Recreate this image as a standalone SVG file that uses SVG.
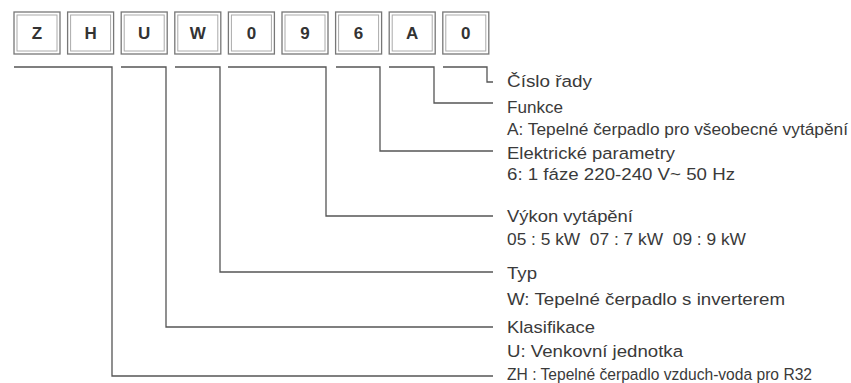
<svg xmlns="http://www.w3.org/2000/svg" width="851" height="383" viewBox="0 0 851 383">
<style>
.box-o{fill:#fff;stroke:#777;stroke-width:1.3}
.box-i{fill:none;stroke:#aaa;stroke-width:1}
.ch{font-family:"Liberation Sans",Arial,sans-serif;font-weight:bold;font-size:17px;fill:#333;text-anchor:middle}
.lbl{font-family:"Liberation Sans",Arial,sans-serif;font-size:16.8px;fill:#3a3a3a;white-space:pre}
.ln{fill:none;stroke:#555;stroke-width:1.3}
</style>
<rect width="851" height="383" fill="#fff"/>
<g id="box-Z"><rect class="box-o" x="14" y="12" width="46" height="42"/><rect class="box-i" x="17" y="15" width="40" height="36"/><text class="ch" x="37" y="39">Z</text></g>
<g id="box-H"><rect class="box-o" x="67.6" y="12" width="46" height="42"/><rect class="box-i" x="70.6" y="15" width="40" height="36"/><text class="ch" x="90.6" y="39">H</text></g>
<g id="box-U"><rect class="box-o" x="121.2" y="12" width="46" height="42"/><rect class="box-i" x="124.2" y="15" width="40" height="36"/><text class="ch" x="144.2" y="39">U</text></g>
<g id="box-W"><rect class="box-o" x="174.8" y="12" width="46" height="42"/><rect class="box-i" x="177.8" y="15" width="40" height="36"/><text class="ch" x="197.8" y="39">W</text></g>
<g id="box-0a"><rect class="box-o" x="228.4" y="12" width="46" height="42"/><rect class="box-i" x="231.4" y="15" width="40" height="36"/><text class="ch" x="251.4" y="39">0</text></g>
<g id="box-9"><rect class="box-o" x="282" y="12" width="46" height="42"/><rect class="box-i" x="285" y="15" width="40" height="36"/><text class="ch" x="305" y="39">9</text></g>
<g id="box-6"><rect class="box-o" x="335.6" y="12" width="46" height="42"/><rect class="box-i" x="338.6" y="15" width="40" height="36"/><text class="ch" x="358.6" y="39">6</text></g>
<g id="box-A"><rect class="box-o" x="389.2" y="12" width="46" height="42"/><rect class="box-i" x="392.2" y="15" width="40" height="36"/><text class="ch" x="412.2" y="39">A</text></g>
<g id="box-0b"><rect class="box-o" x="442.8" y="12" width="46" height="42"/><rect class="box-i" x="445.8" y="15" width="40" height="36"/><text class="ch" x="465.8" y="39">0</text></g>
<g id="connectors">
<polyline class="ln" points="443,67 487,67 487,82 493,82"/>
<polyline class="ln" points="389,67 434,67 434,103 493,103"/>
<polyline class="ln" points="336,67 380,67 380,151 493,151"/>
<polyline class="ln" points="228,67 326,67 326,216 493,216"/>
<polyline class="ln" points="175,67 220,67 220,272 493,272"/>
<polyline class="ln" points="121,67 166,67 166,327 493,327"/>
<polyline class="ln" points="14,67 112,67 112,376 493,376"/>
</g>
<g id="labels">
<text class="lbl" x="507" y="87" textLength="85" lengthAdjust="spacingAndGlyphs">Číslo řady</text>
<text class="lbl" x="507" y="113" textLength="56" lengthAdjust="spacingAndGlyphs">Funkce</text>
<text class="lbl" x="507" y="135" textLength="341" lengthAdjust="spacingAndGlyphs">A: Tepelné čerpadlo pro všeobecné vytápění</text>
<text class="lbl" x="507" y="159" textLength="168" lengthAdjust="spacingAndGlyphs">Elektrické parametry</text>
<text class="lbl" x="507" y="180" textLength="228" lengthAdjust="spacingAndGlyphs">6: 1 fáze 220-240 V~ 50 Hz</text>
<text class="lbl" x="507" y="222" textLength="126" lengthAdjust="spacingAndGlyphs">Výkon vytápění</text>
<text class="lbl" x="507" y="245" textLength="239" lengthAdjust="spacingAndGlyphs">05 : 5 kW  07 : 7 kW  09 : 9 kW</text>
<text class="lbl" x="507" y="279" textLength="30" lengthAdjust="spacingAndGlyphs">Typ</text>
<text class="lbl" x="507" y="305" textLength="278" lengthAdjust="spacingAndGlyphs">W: Tepelné čerpadlo s inverterem</text>
<text class="lbl" x="507" y="333" textLength="88" lengthAdjust="spacingAndGlyphs">Klasifikace</text>
<text class="lbl" x="507" y="357" textLength="176" lengthAdjust="spacingAndGlyphs">U: Venkovní jednotka</text>
<text class="lbl" x="507" y="379.5" textLength="305" lengthAdjust="spacingAndGlyphs">ZH : Tepelné čerpadlo vzduch-voda pro R32</text>
</g>
</svg>
